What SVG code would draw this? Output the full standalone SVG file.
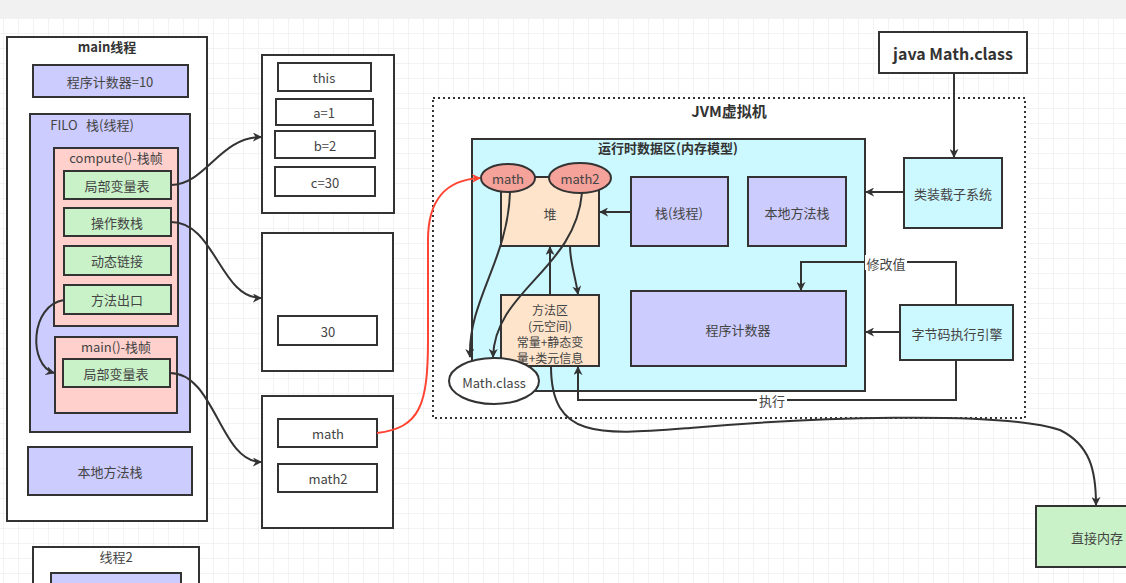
<svg xmlns="http://www.w3.org/2000/svg" width="1126" height="583" viewBox="0 0 1126 583">
  <defs>
    <pattern id="grid" width="15" height="15" patternUnits="userSpaceOnUse" x="3" y="3">
      <path d="M15 0 L0 0 0 15" fill="none" stroke="#e8e8e8" stroke-width="1"/>
    </pattern>
    <marker id="arr" viewBox="0 0 10 10" refX="9" refY="5" markerWidth="9" markerHeight="9" markerUnits="userSpaceOnUse" orient="auto">
      <path d="M0,0 L10,5 L0,10 L3,5 Z" fill="#333"/>
    </marker>
    <marker id="arrRed" viewBox="0 0 10 10" refX="9" refY="5" markerWidth="9" markerHeight="9" markerUnits="userSpaceOnUse" orient="auto">
      <path d="M0,0 L10,5 L0,10 L3,5 Z" fill="#ff4433"/>
    </marker>
    <style>
      .t { font-family: "Noto Sans CJK SC", "Liberation Sans", sans-serif; font-size: 13px; fill: #444; text-anchor: middle; dominant-baseline: central; }
      .s { font-size: 12px; }
      .b { font-weight: bold; font-size: 13px; fill: #333; }
      .box { stroke: #333; stroke-width: 2; }
      .white { fill: #fff; }
      .blue { fill: #ccccff; }
      .pink { fill: #ffd0cc; }
      .green { fill: #c9f2c9; }
      .cyan { fill: #ccf8ff; }
      .peach { fill: #ffe4cc; }
      .salmon { fill: #f4a29a; }
      .link { fill: none; stroke: #333; stroke-width: 2; marker-end: url(#arr); }
      .red { fill: none; stroke: #ff4433; stroke-width: 2; marker-end: url(#arrRed); }
    </style>
  </defs>

  <!-- canvas -->
  <rect x="0" y="0" width="1126" height="583" fill="#fff"/>
  <rect x="0" y="18" width="1126" height="565" fill="url(#grid)"/>
  <rect x="0" y="0" width="1126" height="18" fill="#f1f1f1"/>

  <!-- main thread -->
  <g id="main-thread">
    <rect class="box white" x="7" y="37" width="200" height="484"/>
    <text class="t b" x="107" y="46">main线程</text>
  </g>
  <g id="pc-10">
    <rect class="box blue" x="33" y="65" width="155" height="32"/>
    <text class="t" x="110" y="81">程序计数器=10</text>
  </g>
  <g id="thread-stack">
    <rect class="box blue" x="30" y="114" width="160" height="318"/>
    <text class="t" x="64" y="124">FILO</text>
    <text class="t" x="110" y="124">栈(线程)</text>
  </g>
  <g id="compute-frame">
    <rect class="box pink" x="54" y="148" width="124" height="178"/>
    <text class="t" x="116" y="157">compute()-栈帧</text>
  </g>
  <g id="compute-locals">
    <rect class="box green" x="64" y="171" width="107" height="28"/>
    <text class="t" x="117" y="185">局部变量表</text>
  </g>
  <g id="compute-operands">
    <rect class="box green" x="64" y="208" width="107" height="28"/>
    <text class="t" x="117" y="222">操作数栈</text>
  </g>
  <g id="compute-dynlink">
    <rect class="box green" x="64" y="246" width="107" height="29"/>
    <text class="t" x="117" y="260">动态链接</text>
  </g>
  <g id="compute-return">
    <rect class="box green" x="64" y="285" width="107" height="29"/>
    <text class="t" x="117" y="299">方法出口</text>
  </g>
  <g id="main-frame">
    <rect class="box pink" x="55" y="337" width="122" height="76"/>
    <text class="t" x="116" y="346">main()-栈帧</text>
  </g>
  <g id="main-locals">
    <rect class="box green" x="63" y="359" width="107" height="28"/>
    <text class="t" x="116" y="373">局部变量表</text>
  </g>
  <g id="native-stack-main">
    <rect class="box blue" x="28" y="447" width="164" height="48"/>
    <text class="t" x="110" y="471">本地方法栈</text>
  </g>
  <g id="thread-2">
    <rect class="box white" x="33" y="547" width="166" height="50"/>
    <text class="t" x="116" y="556">线程2</text>
    <rect class="box blue" x="51" y="573" width="130" height="20"/>
  </g>

  <!-- local variable table -->
  <g id="locals-table">
    <rect class="box white" x="262" y="55" width="132" height="158"/>
    <rect class="box white" x="278" y="63" width="93" height="28"/>
    <text class="t" x="324" y="77">this</text>
    <rect class="box white" x="276" y="99" width="97" height="26"/>
    <text class="t" x="324" y="112">a=1</text>
    <rect class="box white" x="275" y="131" width="100" height="27"/>
    <text class="t" x="325" y="145">b=2</text>
    <rect class="box white" x="275" y="167" width="100" height="29"/>
    <text class="t" x="325" y="182">c=30</text>
  </g>
  <!-- operand stack -->
  <g id="operand-table">
    <rect class="box white" x="262" y="233" width="131" height="138"/>
    <rect class="box white" x="278" y="316" width="99" height="29"/>
    <text class="t" x="328" y="331">30</text>
  </g>
  <!-- main locals -->
  <g id="main-locals-table">
    <rect class="box white" x="262" y="396" width="131" height="132"/>
    <rect class="box white" x="278" y="419" width="99" height="28"/>
    <text class="t" x="328" y="433">math</text>
    <rect class="box white" x="278" y="464" width="99" height="28"/>
    <text class="t" x="328" y="478">math2</text>
  </g>

  <!-- JVM -->
  <g id="jvm">
    <rect x="433" y="98" width="592" height="320" fill="#fff" stroke="#333" stroke-width="2" stroke-dasharray="2 3"/>
    <text class="t b" x="729" y="110" style="font-size:15px">JVM虚拟机</text>
  </g>
  <g id="runtime-area">
    <rect class="box cyan" x="472" y="139" width="393" height="252"/>
    <text class="t b" x="668" y="147">运行时数据区(内存模型)</text>
  </g>
  <g id="heap">
    <rect class="box peach" x="501" y="177" width="98" height="69"/>
    <text class="t" x="550" y="213">堆</text>
  </g>
  <g id="heap-math">
    <ellipse class="box salmon" cx="508" cy="178" rx="27" ry="14"/>
    <text class="t" x="508" y="178">math</text>
  </g>
  <g id="heap-math2">
    <ellipse class="box salmon" cx="580" cy="178" rx="31" ry="15"/>
    <text class="t" x="580" y="178">math2</text>
  </g>
  <g id="vm-stack">
    <rect class="box blue" x="631" y="177" width="97" height="69"/>
    <text class="t" x="679" y="212">栈(线程)</text>
  </g>
  <g id="vm-native-stack">
    <rect class="box blue" x="748" y="177" width="98" height="69"/>
    <text class="t" x="797" y="212">本地方法栈</text>
  </g>
  <g id="method-area">
    <rect class="box peach" x="501" y="295" width="98" height="71"/>
    <text class="t s" x="550" y="309">方法区</text>
    <text class="t s" x="550" y="325">(元空间)</text>
    <text class="t s" x="550" y="341">常量+静态变</text>
    <text class="t s" x="550" y="357">量+类元信息</text>
  </g>
  <g id="pc-register">
    <rect class="box blue" x="631" y="291" width="215" height="75"/>
    <text class="t" x="738" y="329">程序计数器</text>
  </g>
  <g id="math-class">
    <ellipse class="box white" cx="494" cy="381" rx="45" ry="23"/>
    <text class="t" x="494" y="382">Math.class</text>
  </g>
  <g id="class-loader">
    <rect class="box cyan" x="904" y="158" width="98" height="70"/>
    <text class="t" x="953" y="193">类装载子系统</text>
  </g>
  <g id="exec-engine">
    <rect class="box cyan" x="900" y="305" width="113" height="55"/>
    <text class="t" x="957" y="333">字节码执行引擎</text>
  </g>
  <g id="java-cmd">
    <rect class="box white" x="879" y="32" width="148" height="41"/>
    <text class="t b" x="953" y="53" style="font-size:16px">java Math.class</text>
  </g>
  <g id="direct-memory">
    <rect class="box green" x="1036" y="506" width="100" height="61"/>
    <text class="t" x="1097" y="537">直接内存</text>
  </g>

  <!-- connectors -->
  <g id="connectors">
    <path class="link" d="M171,185 C205,185 220,137 261,137"/>
    <path class="link" d="M171,222 C215,222 220,298 261,298"/>
    <path class="link" d="M64,300 C30,305 28,365 54,373"/>
    <path class="link" d="M170,373 C215,373 220,462 261,462"/>
    <path class="red" d="M377,433 C420,428 428,405 428,340 L428,240 C428,200 445,180 480,178"/>
    <path class="link" d="M631,212 L600,212"/>
    <path class="link" d="M904,192 L866,192"/>
    <path class="link" d="M954,73 L954,157"/>
    <path class="link" d="M900,332 L866,332"/>
    <path class="link" d="M550,295 L550,247"/>
    <path class="link" d="M570,246 C570,262 575,275 578,294"/>
    <path class="link" d="M956,305 L956,262 L801,262 L801,290"/>
    <path class="link" d="M956,360 L956,400 L578,400 L578,367"/>
    <path class="link" d="M510,192 C508,260 468,300 470,357"/>
    <path class="link" d="M582,193 C575,270 495,290 493,357"/>
    <path class="link" d="M551,366 C551,440 600,435 690,428 C800,418 1000,410 1060,430 C1090,445 1096,470 1096,505"/>
    <rect x="865" y="255" width="42" height="15" fill="#fff"/>
    <text class="t" x="886" y="263">修改值</text>
    <rect x="757" y="393" width="30" height="15" fill="#fff"/>
    <text class="t" x="772" y="400">执行</text>
  </g>
</svg>
